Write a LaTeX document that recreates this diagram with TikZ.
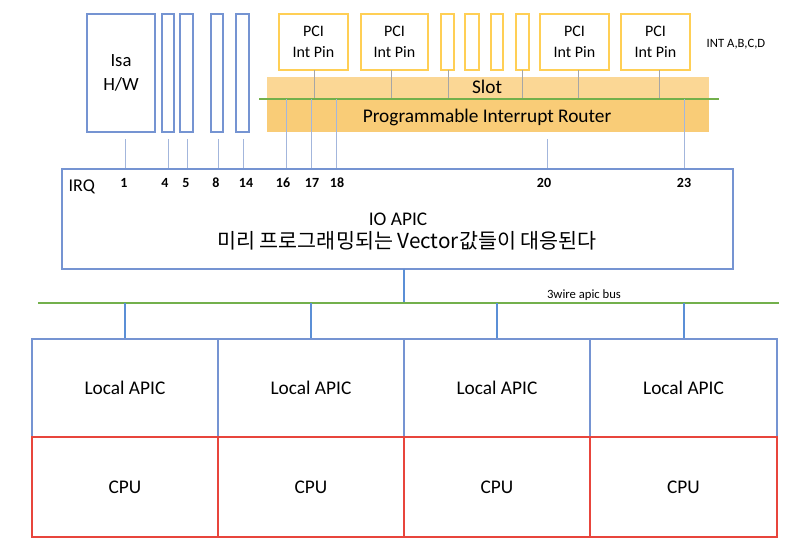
\documentclass[tikz,border=0pt]{standalone}
\usepackage{fontspec}
\setmainfont{Carlito}
\newfontfamily\kr{Noto Sans CJK KR}
\usetikzlibrary{fit}
\definecolor{bblue}{HTML}{7594D2}
\definecolor{lblue}{HTML}{A3B6DC}
\definecolor{dblue}{HTML}{5B8FD6}
\definecolor{rred}{HTML}{E8453C}
\definecolor{ggreen}{HTML}{73B04C}
\definecolor{yel}{HTML}{FFCF55}
\definecolor{slotc}{HTML}{FBD795}
\definecolor{routc}{HTML}{F9CC77}
\begin{document}
\begin{tikzpicture}[x=0.75pt,y=-0.75pt,
  bbox/.style={draw=bblue,line width=1.1pt,inner sep=0pt,fill=white},
  ybox/.style={draw=yel,line width=1.1pt,inner sep=0pt,fill=white},
  pcit/.style={align=center,font=\fontsize{12}{15.5}\selectfont,inner sep=0pt},
  band/.style={inner sep=0pt,draw=none},
  bandt/.style={font=\fontsize{14.5}{17}\selectfont,inner sep=0pt},
  thinl/.style={draw=lblue,line width=0.6pt},
  dropl/.style={draw=dblue,line width=1.5pt},
  bus/.style={draw=ggreen,line width=1.6pt},
  num/.style={font=\fontsize{10.5}{12}\selectfont\bfseries},
  lapic/.style={draw=bblue,line width=0.9pt,inner sep=0pt},
  cpu/.style={draw=rred,line width=1pt,inner sep=0pt},
  bigt/.style={font=\fontsize{14.5}{17}\selectfont,inner sep=0pt},
  small/.style={font=\fontsize{9.5}{11}\selectfont}]
\useasboundingbox (0,0) rectangle (798,547);
% ISA boxes
\node[bbox,fit={(87,14)(155,132)}] (isa) {};
\node[pcit,font=\fontsize{14}{18}\selectfont] (isat) at (isa.center) {Isa\\H/W};
\node[bbox,fit={(162,14)(174,132)}] (b4) {};
\node[bbox,fit={(180,14)(193,132)}] (b5) {};
\node[bbox,fit={(211,14)(223,132)}] (b8) {};
\node[bbox,fit={(236,14)(249,132)}] (b14) {};
% bands
\node[band,fill=slotc,fit={(267,77)(709,99)}] (slot) {};
\node[band,fill=routc,fit={(267,99)(709,132)}] (router) {};
\node[bandt] (slott) at (487,87) {Slot};
\node[bandt] (routt) at (487,117) {Programmable Interrupt Router};
% PCI boxes
\node[ybox,fit={(279,14)(348,70)}] (p1) {};
\node[ybox,fit={(361,14)(428,70)}] (p2) {};
\node[ybox,fit={(441,14)(454,70)}] (s1) {};
\node[ybox,fit={(465,14)(479,70)}] (s2) {};
\node[ybox,fit={(491,14)(503,70)}] (s3) {};
\node[ybox,fit={(516,14)(529,70)}] (s4) {};
\node[ybox,fit={(540,14)(609,70)}] (p3) {};
\node[ybox,fit={(621,14)(690,70)}] (p4) {};
\foreach \n in {p1,p2,p3,p4}{
  \node[pcit] (\n t) at (\n.center) {PCI\\Int Pin};
}
\node[small,anchor=west] (intl) at (702,44) {INT A,B,C,D};
% green line in router
\coordinate (gl) at (259,99);
\coordinate (gr) at (719,99);
% IO APIC
\node[bbox,fill=none,fit={(62,169)(733,269)}] (io) {};
\node[anchor=west,font=\fontsize{13.5}{15}\selectfont] (irq) at (64,187) {IRQ};
\node[bigt] (iot) at (398,219) {IO APIC};
\node[font=\fontsize{15.5}{18}\kr,inner sep=0pt] (kt) at (407,241) {미리 프로그래밍되는 Vector값들이 대응된다};
% pin lines PCI to bus
\foreach \n/\x in {p1/314,p2/391,s1/448,s4/522,p3/578,p4/659}{
  \coordinate (\n b) at (\x,70);
  \draw[thinl,draw=gray!70] (\n b) -- (\n b |- gl);
}
\draw[bus] (gl) -- (gr);
% ISA lines
\foreach \n/\x in {isa/125,b4/168,b5/187,b8/218,b14/243}{
  \coordinate (\n t) at (\x,139);
  \draw[thinl] (\n t) -- (\n t |- io.north);
}
% router lines
\foreach \x in {286,311,336,684}{
  \coordinate (r\x) at (\x,99);
  \draw[thinl] (r\x) -- (r\x |- io.north);
}
\coordinate (r547) at (547,139);
\draw[thinl] (r547) -- (r547 |- io.north);
% numbers
\foreach \t/\x in {1/124,4/165,5/186,8/216,14/246,16/283,17/312,18/337,20/544,23/684}{
  \node[num] (n\t) at (\x,183) {\t};
}
% bus
\coordinate (bl) at (38,303);
\coordinate (br) at (779,303);
\coordinate (iob) at (404,269);
\draw[dropl] (iob) -- (iob |- bl);
\draw[bus] (bl) -- (br);
\node[small] (busl) at (584,295) {3wire apic bus};
% local apic and cpu
\foreach \i/\a/\b in {1/32/218,2/218/404,3/404/590,4/590/777}{
  \node[lapic,fit={(\a,339)(\b,437)}] (la\i) {};
  \node[bigt] (la\i t) at (la\i.center) {Local APIC};
}
\foreach \i/\a/\b in {1/32/218,2/218/404,3/404/590,4/590/777}{
  \node[cpu,fit={(\a,437)(\b,537)}] (cpu\i) {};
  \node[bigt] (cpu\i t) at (cpu\i.center) {CPU};
}
\foreach \i/\x in {1/125,2/311,3/497,4/684}{
  \coordinate (d\i) at (\x,303);
  \draw[dropl] (d\i) -- (d\i |- la\i.north);
}
\end{tikzpicture}
\end{document}
